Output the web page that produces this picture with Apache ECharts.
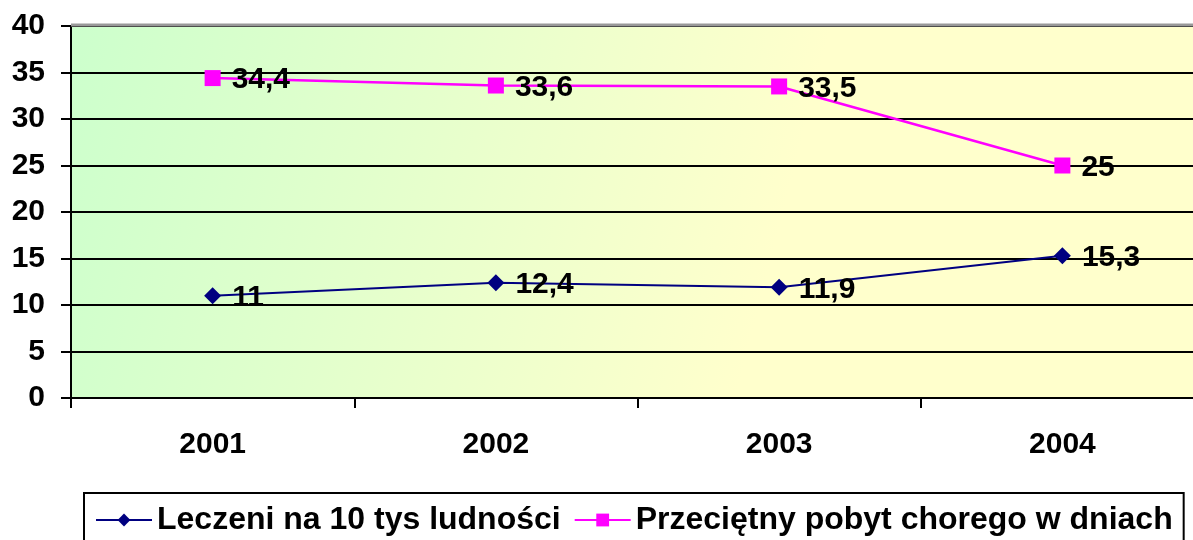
<!DOCTYPE html>
<html>
<head>
<meta charset="utf-8">
<script src="https://cdn.jsdelivr.net/npm/echarts@6/dist/echarts.min.js"></script>
<style>
  html, body { margin: 0; padding: 0; background: #fff; }
  #chart { width: 1193px; height: 540px; }
</style>
</head>
<body>
<div id="chart"></div>
<script>
  const years = ['2001', '2002', '2003', '2004']
  const leczeni = [11, 12.4, 11.9, 15.3]
  const pobyt = [34.4, 33.6, 33.5, 25]
  const yTicks = [0, 5, 10, 15, 20, 25, 30, 35, 40]

  const font = '"Liberation Sans", Arial, sans-serif'
  const chart = echarts.init(document.getElementById('chart'))

  const labelStyle = {
    show: true,
    position: 'right',
    distance: 11,
    offset: [0, 2],
    color: '#000',
    fontFamily: font,
    fontWeight: 'bold',
    fontSize: 30,
    formatter: p => String(p.value).replace('.', ',')
  }

  chart.setOption({
    animation: false,
    grid: {
      left: 71,
      width: 1133,
      top: 26,
      bottom: 142,
      outerBoundsMode: 'none',
      show: true,
      borderWidth: 0,
      backgroundColor: new echarts.graphic.LinearGradient(0, 0, 0.9, 0.7, [
        {offset: 0, color: '#ccffcc'},
        {offset: 0.7, color: '#ffffcc'},
        {offset: 1, color: '#ffffcc'}
      ])
    },
    legend: {
      left: 84,
      top: 493,
      width: 1082,
      padding: [11, 11, 20, 11],
      itemGap: 13,
      itemWidth: 56,
      itemHeight: 16,
      borderColor: '#000',
      borderWidth: 2,
      textStyle: {
        fontFamily: font,
        fontWeight: 'bold',
        fontSize: 32,
        color: '#000'
      },
      data: ['Leczeni na 10 tys ludności', 'Przeciętny pobyt chorego w dniach']
    },
    xAxis: {
      type: 'category',
      data: years,
      boundaryGap: true,
      axisLine: {lineStyle: {color: '#000', width: 2}},
      axisTick: {show: true, length: 10, lineStyle: {color: '#000', width: 2}},
      axisLabel: {
        margin: 32,
        color: '#000',
        fontFamily: font,
        fontWeight: 'bold',
        fontSize: 30
      }
    },
    yAxis: {
      type: 'value',
      min: yTicks[0],
      max: yTicks[yTicks.length - 1],
      interval: 5,
      axisLine: {show: true, lineStyle: {color: '#000', width: 2}},
      axisTick: {show: true, length: 10, lineStyle: {color: '#000', width: 2}},
      splitLine: {lineStyle: {color: '#000', width: 2}},
      axisLabel: {
        margin: 26,
        color: '#000',
        fontFamily: font,
        fontWeight: 'bold',
        fontSize: 30
      }
    },
    series: [
      {
        name: 'Leczeni na 10 tys ludności',
        type: 'line',
        data: leczeni,
        symbol: 'diamond',
        symbolSize: 17,
        color: '#000080',
        lineStyle: {color: '#000080', width: 2},
        itemStyle: {color: '#000080'},
        label: labelStyle
      },
      {
        name: 'Przeciętny pobyt chorego w dniach',
        type: 'line',
        data: pobyt,
        symbol: 'rect',
        symbolSize: 16,
        color: '#ff00ff',
        lineStyle: {color: '#ff00ff', width: 2.5},
        itemStyle: {color: '#ff00ff'},
        label: labelStyle
      }
    ],
    graphic: [
      {
        type: 'line',
        shape: {x1: 71, y1: 25, x2: 1193, y2: 25},
        style: {stroke: '#999', lineWidth: 3},
        z: 10
      }
    ]
  })
</script>
</body>
</html>
